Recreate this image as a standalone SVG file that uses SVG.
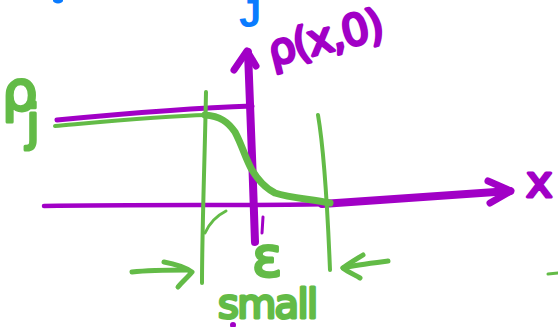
<svg xmlns="http://www.w3.org/2000/svg" width="558" height="327" viewBox="0 0 558 327">
<style>
.p{fill:none;stroke:#a100c6;stroke-linecap:round;stroke-linejoin:round}
.g{fill:none;stroke:#63bb47;stroke-linecap:round;stroke-linejoin:round}
.tp{fill:#a100c6;stroke:#a100c6;stroke-width:3;stroke-linejoin:round;font-family:"DejaVu Sans",sans-serif}
.tg{fill:#63bb47;stroke:#63bb47;stroke-width:3;stroke-linejoin:round;font-family:"DejaVu Sans",sans-serif}
</style>
<rect width="558" height="327" fill="#ffffff"/>
<g id="top-marks">
<ellipse cx="58" cy="0.5" rx="5" ry="3" fill="#0a7bff"/>
<text x="239" y="27" font-family="'Liberation Sans',sans-serif" font-size="40" font-weight="bold" fill="#0a7bff">J</text>
</g>
<g id="axes">
<path class="p" stroke-width="8" d="M248,52 C250,100 253,180 255,242"/>
<path class="p" stroke-width="7" d="M234,70 L247,51 L256,66"/>
<path class="p" stroke-width="3" d="M263,217 L262,233"/>
<path class="p" stroke-width="5" d="M57,120 C120,114 190,108 252,106"/>
<path class="p" stroke-width="4.5" d="M44,206 C150,204 250,206 330,204"/>
<path class="p" stroke-width="8" d="M322,204 C400,199 460,194 510,191"/>
<path class="p" stroke-width="7" d="M488,181 L511,191 L490,203"/>
<circle cx="233" cy="325" r="3" fill="#a100c6"/>
<text class="tp" x="272" y="66" font-size="43" textLength="118" transform="rotate(-14 272 66)">ρ(x,0)</text>
<text class="tp" x="526" y="197" font-size="45">x</text>
</g>
<g id="profile">
<path class="g" stroke-width="4" d="M55,126 C100,122 160,116 207,115"/>
<path class="g" stroke-width="7" d="M205,115 C220,116 228,122 235,132 C242,145 246,160 252,170 C258,180 265,188 275,193 C290,198 310,199 330,203"/>
<text class="tg" x="2" y="110" font-size="56">ρ</text>
<text class="tg" x="26" y="140" font-size="50">j</text>
</g>
<g id="epsilon-band">
<path class="g" stroke-width="4" d="M206,92 C205,150 202,230 202,283"/>
<path class="g" stroke-width="3" d="M205,233 C210,222 218,215 226,211"/>
<path class="g" stroke-width="4" d="M318,115 C324,150 328,220 330,270"/>
<path class="g" stroke-width="5" d="M132,272 C150,270 170,270 188,270"/>
<path class="g" stroke-width="5" d="M164,262 C175,264 186,268 192,272 C188,277 182,282 178,287"/>
<path class="g" stroke-width="5" d="M388,261 C372,263 355,265 343,268"/>
<path class="g" stroke-width="5" d="M363,255 C355,260 348,264 343,268 C348,272 355,275 360,278"/>
<path class="g" stroke-width="3" d="M548,274 L558,273"/>
<text class="tg" x="252" y="276" font-size="56">ε</text>
<text class="tg" x="218" y="318" font-size="40" textLength="100">small</text>
</g>
</svg>
